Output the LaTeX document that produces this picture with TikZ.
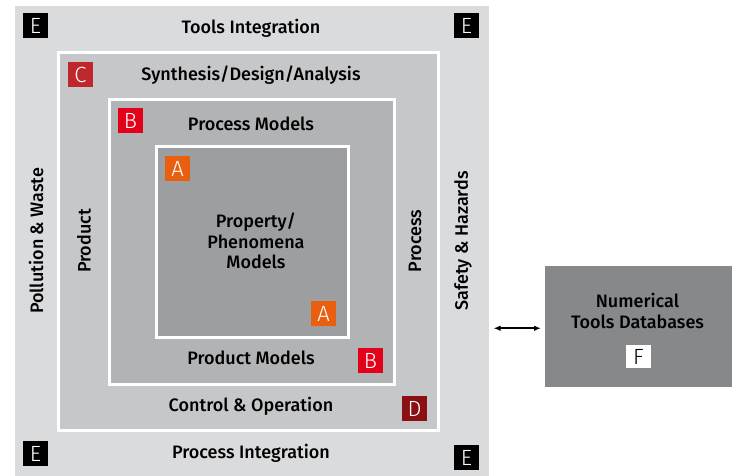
\documentclass[tikz,border=0pt]{standalone}
\usepackage{fontspec}
\setmainfont{Fira Sans}[BoldFont={Fira Sans Medium}]
\newfontfamily\tagfont{Fira Sans Light}
\usetikzlibrary{arrows.meta,calc}
\definecolor{gOuter}{HTML}{DADBDD}
\definecolor{gC}{HTML}{C6C7C9}
\definecolor{gB}{HTML}{B2B3B5}
\definecolor{gA}{HTML}{9D9EA0}
\definecolor{gNum}{HTML}{87888A}
\definecolor{tagA}{HTML}{E8600F}
\definecolor{tagB}{HTML}{E2001A}
\definecolor{tagC}{HTML}{C0272D}
\definecolor{tagD}{HTML}{8B1014}
\tikzset{
  panel/.style={anchor=north west, inner sep=0, draw=white, line width=2.5pt},
  tag/.style={minimum size=25pt, inner sep=0, text=white, font=\tagfont\fontsize{22}{22}\selectfont},
  lbl/.style={font=\fontsize{18}{20.5}\selectfont\bfseries, text=black, align=center, inner sep=0},
  arr/.style={{Latex[length=7pt,width=5.5pt]}-{Latex[length=7pt,width=5.5pt]}, line width=1.6pt}
}
\begin{document}
\begin{tikzpicture}[x=1pt,y=-1pt]
\useasboundingbox (0,0) rectangle (734,475);
\fill[white] (0,0) rectangle (734,475);
\node[panel, draw=none, fill=gOuter, minimum width=474pt, minimum height=470pt] (outer) at (14,5) {};
\node[panel, fill=gC, minimum width=380pt, minimum height=378pt] (boxC) at (57,51) {};
\node[panel, fill=gB, minimum width=285pt, minimum height=285pt] (boxB) at (108,98) {};
\node[panel, fill=gA, minimum width=192pt, minimum height=191pt] (boxA) at (155,145) {};
\node[panel, draw=none, fill=gNum, minimum width=187pt, minimum height=121pt] (num) at (544,265) {};

% labels
\node[lbl] (tools) at (251,28) {Tools Integration};
\node[lbl] (synth) at (251,75) {Synthesis/Design/Analysis};
\node[lbl] (pmod) at (251,124) {Process Models};
\node[lbl] (prop) at (256,241) {Property/\\Phenomena\\Models};
\node[lbl] (prodmod) at (251,358) {Product Models};
\node[lbl] (ctrl) at (251,406) {Control \& Operation};
\node[lbl] (pint) at (251,453) {Process Integration};
\node[lbl, rotate=90] (poll) at (36,241) {Pollution \& Waste};
\node[lbl, rotate=90] (safe) at (463,241) {Safety \& Hazards};
\node[lbl, rotate=90] (prod) at (84,241) {Product};
\node[lbl, rotate=90] (proc) at (415,241) {Process};
\node[lbl] (numtxt) at (637.5,311) {Numerical\\Tools Databases};

% tags
\node[tag, fill=black] (e1) at (35.5,25.5) {E};
\node[tag, fill=black] (e2) at (466.5,25.5) {E};
\node[tag, fill=black] (e3) at (35.5,453.5) {E};
\node[tag, fill=black] (e4) at (466.5,457.5) {E};
\node[tag, fill=tagC] (c1) at (80.5,74.5) {C};
\node[tag, fill=tagB] (b1) at (130.5,120.5) {B};
\node[tag, fill=tagB] (b2) at (370.5,360.5) {B};
\node[tag, fill=tagD] (d1) at (414.5,408.5) {D};
\node[tag, fill=tagA] (a1) at (177.5,168.5) {A};
\node[tag, fill=tagA] (a2) at (323.5,313.5) {A};
\node[tag, fill=white, text=black, minimum width=25pt, minimum height=23pt] (f1) at (638.5,356.5) {F};

\draw[arr] ($(outer.east |- num.west)+(3,1.5)$) -- ($(num.west)+(-3,1.5)$);
\end{tikzpicture}
\end{document}
